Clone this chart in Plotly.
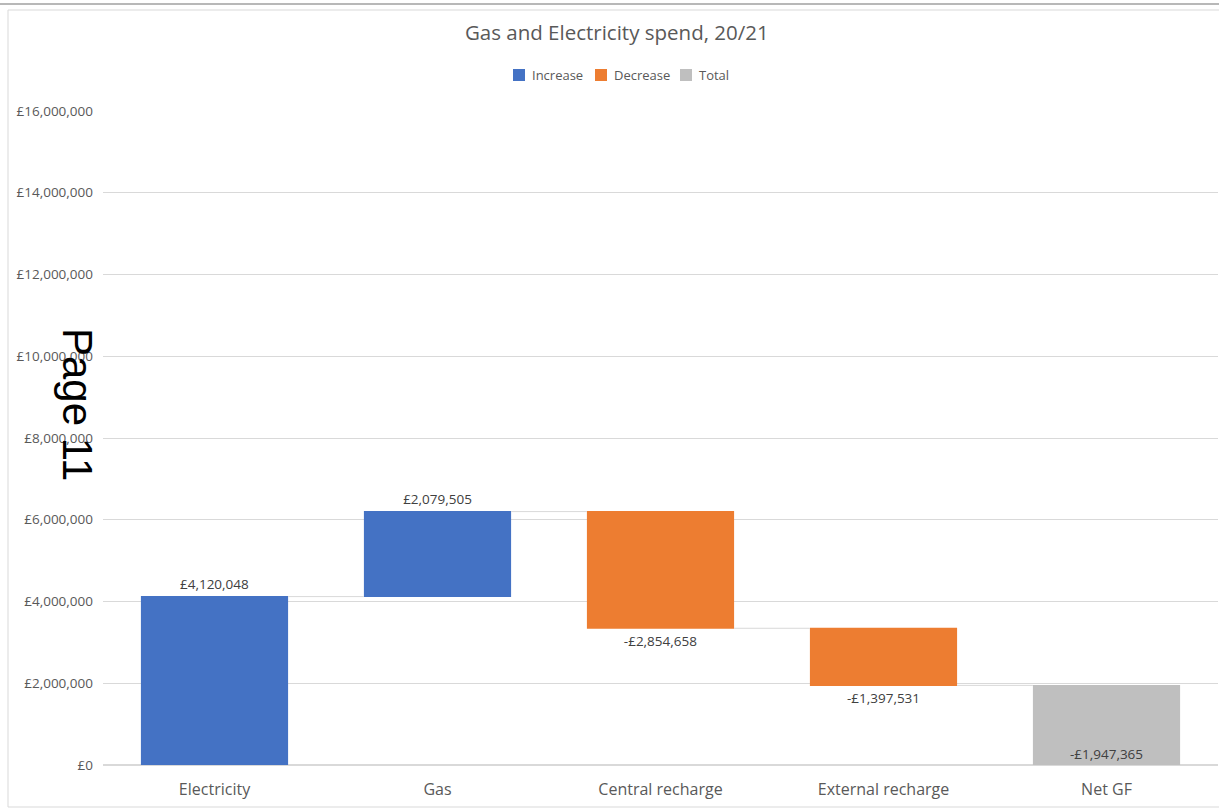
import plotly.graph_objects as go

categories = ["Electricity", "Gas", "Central recharge", "External recharge", "Net GF"]
values = [4120048, 2079505, -2854658, -1397531, 0]
measures = ["relative", "relative", "relative", "relative", "total"]
labels = ["£4,120,048", "£2,079,505", "-£2,854,658", "-£1,397,531", "-£1,947,365"]
legend_names = ["Increase", "Decrease", "Total"]
legend_colors = ["#4472C4", "#ED7D31", "#A5A5A5"]
total_color = "#BFBFBF"

W, H = 1219, 812
L, R, T, B = 103, 1, 111, 47
pw, ph = W - L - R, H - T - B

def px(x):
    return (x - L) / pw

def py(y):
    return (H - B - y) / ph

fig = go.Figure()
fig.add_trace(go.Waterfall(
    x=categories, y=values, measure=measures,
    text=labels,
    textposition=["outside", "outside", "outside", "outside", "inside"],
    insidetextanchor="start",
    textfont=dict(family="Open Sans, sans-serif", size=13.5, color="#404040"),
    increasing=dict(marker=dict(color=legend_colors[0])),
    decreasing=dict(marker=dict(color=legend_colors[1])),
    totals=dict(marker=dict(color=total_color)),
    connector=dict(line=dict(color="#D9D9D9", width=1)),
    width=0.66,
    showlegend=False,
    cliponaxis=False,
    hoverinfo="skip",
))

# manual legend (Excel-style compact)
legend_x = [519, 601, 686]
shapes = [
    dict(type="rect", xref="paper", yref="paper", x0=px(8), x1=px(1225), y0=py(807), y1=py(10),
         line=dict(color="#D9D9D9", width=1), fillcolor="rgba(0,0,0,0)", layer="below"),
    dict(type="line", xref="paper", yref="paper", x0=px(0), x1=px(1219), y0=py(4), y1=py(4),
         line=dict(color="#A0A0A0", width=1.5)),
]
annotations = [
    dict(text="Page 11", xref="paper", yref="paper", x=px(78), y=py(404), showarrow=False,
         textangle=90, font=dict(family="Liberation Sans, Arial, sans-serif", size=42, color="black"),
         xanchor="center", yanchor="middle"),
]
for n, c, lx in zip(legend_names, legend_colors, legend_x):
    shapes.append(dict(type="rect", xref="paper", yref="paper",
                       x0=px(lx - 6), x1=px(lx + 6), y0=py(81), y1=py(69),
                       line=dict(width=0), fillcolor=c if n != "Total" else total_color))
    annotations.append(dict(text=n, xref="paper", yref="paper", x=px(lx + 11), y=py(75),
                            xanchor="left", yanchor="middle", showarrow=False,
                            font=dict(size=13, color="#595959")))

fig.update_layout(
    width=W, height=H,
    margin=dict(l=L, r=R, t=T, b=B),
    paper_bgcolor="white", plot_bgcolor="white",
    font=dict(family="Open Sans, sans-serif", color="#595959"),
    title=dict(text="Gas and Electricity spend, 20/21", x=0.506, xref="container",
               y=1 - 33 / H, yanchor="middle", yref="container",
               font=dict(size=20.5, color="#595959")),
    showlegend=False,
    xaxis=dict(showgrid=False, showline=False, ticks="", ticklabelstandoff=13,
               tickfont=dict(size=16, color="#595959")),
    yaxis=dict(range=[0, 16000000], dtick=2000000, tickprefix="£", tickformat=",",
               showgrid=True, gridcolor="#D9D9D9", gridwidth=1, zeroline=True,
               zerolinecolor="#D9D9D9", showline=False, ticks="", ticklabelstandoff=9,
               tickfont=dict(size=13.5, color="#595959")),
    shapes=shapes,
    annotations=annotations,
)
fig.write_html("out.html", config={"displayModeBar": False},
               post_script="document.body.style.margin='0px';document.body.style.overflow='hidden';")
